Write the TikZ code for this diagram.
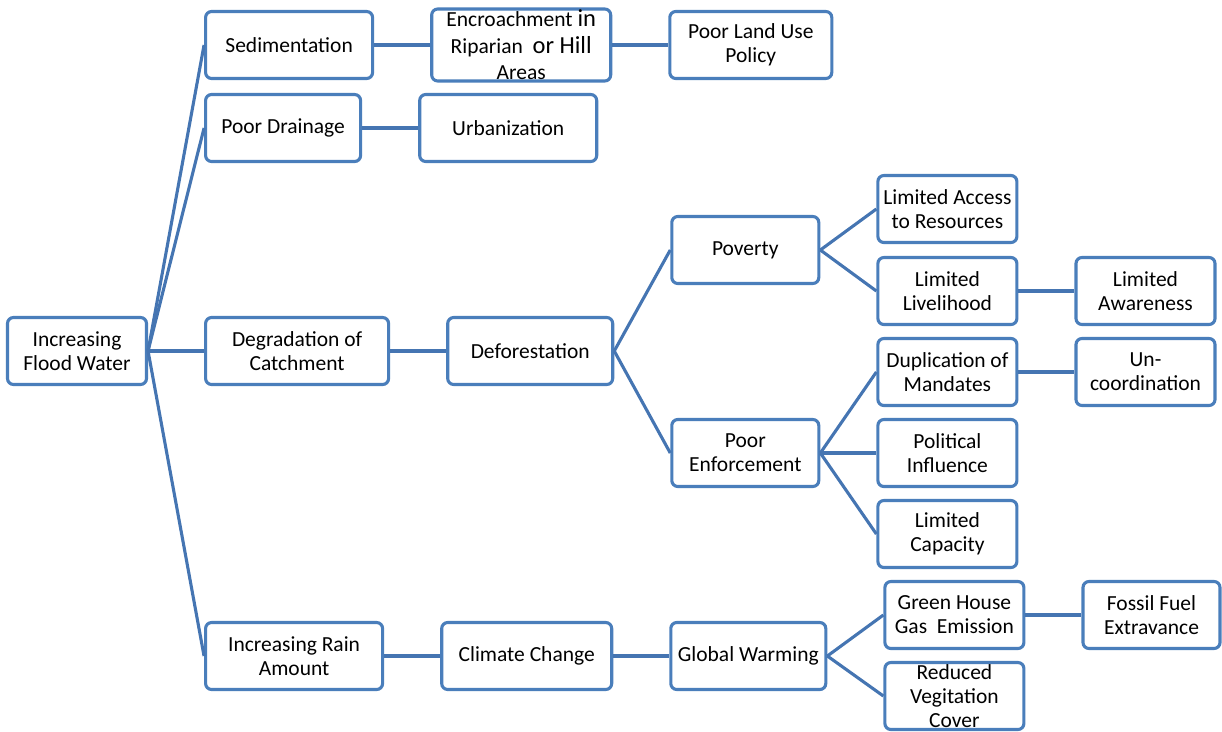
\documentclass[tikz,border=0pt]{standalone}
\usepackage{fontspec}
\setmainfont{Carlito}
\usepackage{tikz}
\usetikzlibrary{positioning}
\definecolor{fwblue}{HTML}{4A7EBB}
\definecolor{fwline}{HTML}{4575B2}
\tikzset{
  box/.style={
    draw=fwblue,
    fill=white,
    rounded corners=6pt,
    line width=3.1pt,
    minimum height=67pt,
    inner sep=1pt,
    align=center,
    font=\fontsize{21.5}{24}\selectfont
  },
  smallbox/.style={
    box,
    minimum width=139pt
  },
  link/.style={
    draw=fwline,
    line width=3.1pt
  }
}

\begin{document}
\begin{tikzpicture}[x=1pt, y=1pt, node distance=56pt]
  \useasboundingbox (0,0) rectangle (1222,-731);

  \node[box, minimum width=139pt] (flood) at (77,-351) {Increasing\\Flood Water};

  % first level
  \node[box, minimum width=167pt, right=of flood, yshift=306pt] (sediment) {Sedimentation};
  \node[box, minimum width=155pt, right=of flood, yshift=223pt] (drainage) {Poor Drainage};
  \node[box, minimum width=183pt, right=of flood] (catchment) {Degradation of\\Catchment};
  \node[box, minimum width=177pt, right=of flood, yshift=-305pt] (rain) {Increasing Rain\\Amount};

  % second level
  \node[box, minimum width=179pt, minimum height=70pt, font=\fontsize{21.5}{26.5}\selectfont,
        right=of sediment] (encroach)
    {Encroachment {\fontsize{24.5}{26}\selectfont in}\\Riparian\ \ {\fontsize{24.5}{26}\selectfont or Hill}\\Areas};
  \node[box, minimum width=177pt, right=of drainage] (urban) {Urbanization};
  \node[box, minimum width=165pt, right=of catchment] (deforest) {Deforestation};
  \node[box, minimum width=170pt, right=of rain] (climate) {Climate Change};

  % third level
  \node[box, minimum width=162pt, right=of encroach] (landuse) {Poor Land Use\\Policy};
  \node[box, minimum width=147pt, right=of deforest, yshift=101pt] (poverty) {Poverty};
  \node[box, minimum width=147pt, right=of deforest, yshift=-102pt] (enforce) {Poor\\Enforcement};
  \node[box, minimum width=155pt, right=of climate] (warming) {Global Warming};

  % fourth level
  \node[smallbox, right=of poverty, yshift=41pt] (access) {Limited Access\\to Resources};
  \node[smallbox, right=of poverty, yshift=-41pt] (livelihood) {Limited\\Livelihood};
  \node[smallbox, right=of enforce, yshift=81pt] (mandates) {Duplication of\\Mandates};
  \node[smallbox, right=of enforce] (political) {Political\\Influence};
  \node[smallbox, right=of enforce, yshift=-81pt] (capacity) {Limited\\Capacity};
  \node[box, minimum width=139pt, right=of warming, yshift=41pt] (greenhouse) {Green House\\Gas\ \ Emission};
  \node[box, minimum width=139pt, right=of warming, yshift=-40pt] (vegetation) {Reduced\\Vegitation\\Cover};

  % fifth level
  \node[box, minimum width=139pt, right=of livelihood] (awareness) {Limited\\Awareness};
  \node[box, minimum width=139pt, right=of mandates] (uncoord) {Un-\\coordination};
  \node[box, minimum width=137pt, right=of greenhouse] (fossil) {Fossil Fuel\\Extravance};

  \foreach \kid in {sediment, drainage, catchment, rain}
    \draw[link] (flood.east) -- (\kid.west);
  \draw[link] (sediment) -- (encroach);
  \draw[link] (encroach) -- (landuse);
  \draw[link] (drainage) -- (urban);
  \draw[link] (catchment) -- (deforest);
  \draw[link] (deforest.east) -- (poverty.west);
  \draw[link] (deforest.east) -- (enforce.west);
  \draw[link] (poverty.east) -- (access.west);
  \draw[link] (poverty.east) -- (livelihood.west);
  \draw[link] (livelihood) -- (awareness);
  \foreach \kid in {mandates, political, capacity}
    \draw[link] (enforce.east) -- (\kid.west);
  \draw[link] (mandates) -- (uncoord);
  \draw[link] (rain) -- (climate);
  \draw[link] (climate) -- (warming);
  \draw[link] (warming.east) -- (greenhouse.west);
  \draw[link] (warming.east) -- (vegetation.west);
  \draw[link] (greenhouse) -- (fossil);
\end{tikzpicture}
\end{document}
